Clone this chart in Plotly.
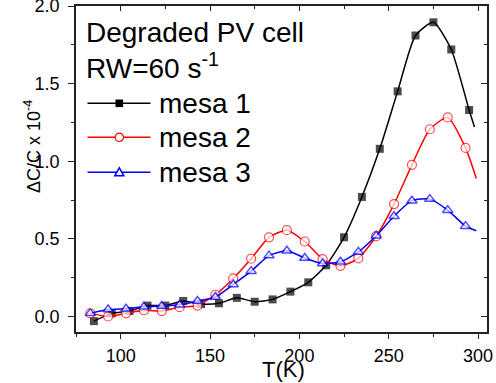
import plotly.graph_objects as go

# ---- data ----
T1 = [85, 95, 105, 115, 125, 135, 145, 155, 165, 175, 185, 195, 205, 215, 225,
      235, 245, 255, 265, 275, 285, 295, 298]
mesa1 = [-0.03, 0.02, 0.035, 0.07, 0.07, 0.10, 0.08, 0.085, 0.12, 0.095, 0.11,
         0.16, 0.22, 0.33, 0.51, 0.77, 1.08, 1.45, 1.81, 1.895, 1.72, 1.33, 1.22]

T2 = [83, 93, 103, 113, 123, 133, 143, 153, 163, 173, 183, 193, 203, 213, 223,
      233, 243, 253, 263, 273, 283, 293, 299]
mesa2 = [0.02, 0.0, 0.02, 0.04, 0.035, 0.06, 0.07, 0.14, 0.245, 0.372, 0.51,
         0.556, 0.483, 0.37, 0.326, 0.374, 0.517, 0.724, 0.977, 1.206, 1.282,
         1.086, 0.889]

T3 = [83, 93, 103, 113, 123, 133, 143, 153, 163, 173, 183, 193, 203, 213, 223,
      233, 243, 253, 263, 273, 283, 293, 299]
mesa3 = [0.02, 0.045, 0.05, 0.062, 0.068, 0.075, 0.10, 0.125, 0.206, 0.292,
         0.392, 0.423, 0.377, 0.341, 0.352, 0.416, 0.52, 0.646, 0.746, 0.756,
         0.685, 0.582, 0.552]

x_ticks = [100, 150, 200, 250, 300]
y_ticks = [0.0, 0.5, 1.0, 1.5, 2.0]
y_tick_labels = ["0.0", "0.5", "1.0", "1.5", "2.0"]

names = ["mesa 1", "mesa 2", "mesa 3"]
colors = ["#000000", "#ff0000", "#0000ff"]

FONT = "Liberation Sans, Arial, sans-serif"

# plot-area geometry (pixels)
W, H = 496, 383
ML, MR, MT, MB = 76, 9, 6, 51
PW, PH = W - ML - MR, H - MT - MB


def px(xp):
    return (xp - ML) / PW


def py(yp):
    return (H - MB - yp) / PH


def sizes(n, s):
    return [s] * (n - 1) + [0]


fig = go.Figure()
fig.add_trace(go.Scatter(
    x=T1, y=mesa1, name=names[0], mode="lines+markers", showlegend=False,
    line=dict(color=colors[0], width=1.5, shape="spline", smoothing=0.6),
    marker=dict(symbol="square", size=sizes(len(T1), 8), color=colors[0],
                line=dict(width=0))))
fig.add_trace(go.Scatter(
    x=T2, y=mesa2, name=names[1], mode="lines+markers", showlegend=False,
    line=dict(color=colors[1], width=1.5, shape="spline", smoothing=0.6),
    marker=dict(symbol="circle", size=sizes(len(T2), 9), color="white",
                line=dict(width=1.2, color=colors[1]))))
fig.add_trace(go.Scatter(
    x=T3, y=mesa3, name=names[2], mode="lines+markers", showlegend=False,
    line=dict(color=colors[2], width=1.5, shape="spline", smoothing=0.6),
    marker=dict(symbol="triangle-up", size=sizes(len(T3), 9), color="white",
                line=dict(width=1.5, color=colors[2]))))

axis_color = "#222222"
common = dict(showgrid=False, zeroline=False, automargin=False,
              showline=True, linecolor=axis_color, linewidth=1.5,
              tickwidth=1.2, tickcolor=axis_color)
fig.update_layout(
    width=W, height=H,
    margin=dict(l=ML, r=MR, t=MT, b=MB),
    paper_bgcolor="white", plot_bgcolor="white",
    font=dict(family=FONT, color="black"),
    showlegend=False,
    xaxis=dict(
        range=[75, 305], tickvals=x_ticks, ticks="outside", ticklen=5,
        tickfont=dict(size=18, family=FONT, color="black"),
        minor=dict(dtick=25, tick0=0, ticks="outside", ticklen=3,
                   tickcolor=axis_color, tickwidth=1.2),
        ticklabelstandoff=2, ticklabeloverflow="allow", **common,
    ),
    yaxis=dict(
        range=[-0.1, 2.0], tickvals=y_ticks, ticktext=y_tick_labels,
        ticks="outside", ticklen=6,
        tickfont=dict(size=18, family=FONT, color="black"),
        minor=dict(dtick=0.25, tick0=0, ticks="outside", ticklen=3,
                   tickcolor=axis_color, tickwidth=1.2),
        ticklabelstandoff=5, ticklabeloverflow="allow", **common,
    ),
    xaxis2=dict(
        overlaying="x", side="top", matches="x", tickvals=x_ticks,
        ticks="inside", ticklen=5, showticklabels=False,
        minor=dict(dtick=25, tick0=0, ticks="inside", ticklen=3,
                   tickcolor=axis_color, tickwidth=1.2),
        **common,
    ),
    yaxis2=dict(
        overlaying="y", side="right", matches="y", tickvals=y_ticks,
        ticks="inside", ticklen=6, showticklabels=False,
        minor=dict(dtick=0.25, tick0=0, ticks="inside", ticklen=3,
                   tickcolor=axis_color, tickwidth=1.2),
        **common,
    ),
)

# invisible trace to activate the mirrored (top/right) axes
fig.add_trace(go.Scatter(x=[T1[0]], y=[mesa1[0]], xaxis="x2", yaxis="y2",
                         mode="markers", marker=dict(opacity=0),
                         showlegend=False, hoverinfo="skip"))

big = dict(size=28, family=FONT, color="black")
fig.add_annotation(text="Degraded PV cell", xref="paper", yref="paper",
                   x=px(84), y=py(33), xanchor="left", yanchor="middle",
                   showarrow=False, font=big)
fig.add_annotation(text="RW=60 s<sup>-1</sup>", xref="paper", yref="paper",
                   x=px(84), y=py(66), xanchor="left", yanchor="middle",
                   showarrow=False, font=big)

# hand-drawn legend
leg_y = [103.3, 137.3, 172.3]
for i in range(3):
    yy = py(leg_y[i])
    fig.add_shape(type="line", xref="paper", yref="paper",
                  x0=px(87.5), x1=px(150.5), y0=yy, y1=yy,
                  line=dict(color=colors[i], width=1.5))
    fig.add_annotation(text=names[i], xref="paper", yref="paper",
                       x=px(157), y=yy, xanchor="left", yanchor="middle",
                       showarrow=False, font=big)
cx = 119.3
# square (mesa 1)
fig.add_shape(type="rect", xref="paper", yref="paper",
              x0=px(cx - 3.8), x1=px(cx + 3.8),
              y0=py(leg_y[0] + 3.8), y1=py(leg_y[0] - 3.8),
              fillcolor=colors[0], line=dict(width=0))
# circle (mesa 2)
fig.add_shape(type="circle", xref="paper", yref="paper",
              x0=px(cx - 4.2), x1=px(cx + 4.2),
              y0=py(leg_y[1] + 4.2), y1=py(leg_y[1] - 4.2),
              fillcolor="white", line=dict(color=colors[1], width=1.2))
# triangle (mesa 3)
ty = leg_y[2]
tri = "M {:.5f},{:.5f} L {:.5f},{:.5f} L {:.5f},{:.5f} Z".format(
    px(cx - 4.5), py(ty + 3.5), px(cx + 4.5), py(ty + 3.5), px(cx), py(ty - 4.5))
fig.add_shape(type="path", xref="paper", yref="paper", path=tri,
              fillcolor="white", line=dict(color=colors[2], width=1.5))

fig.add_annotation(text="\u0394C/C x 10<sup>-4</sup>", xref="paper", yref="paper",
                   x=px(33), y=py(147), textangle=-90,
                   xanchor="center", yanchor="middle", showarrow=False,
                   font=dict(size=18, family=FONT, color="black"))
fig.add_annotation(text="T(K)", xref="paper", yref="paper",
                   x=px(283), y=py(369),
                   xanchor="center", yanchor="middle", showarrow=False,
                   font=dict(size=22, family=FONT, color="black"))

fig.write_html(
    "out.html",
    config={"displayModeBar": False},
    post_script="document.body.style.margin='0';"
                "document.body.style.overflow='hidden';",
)
